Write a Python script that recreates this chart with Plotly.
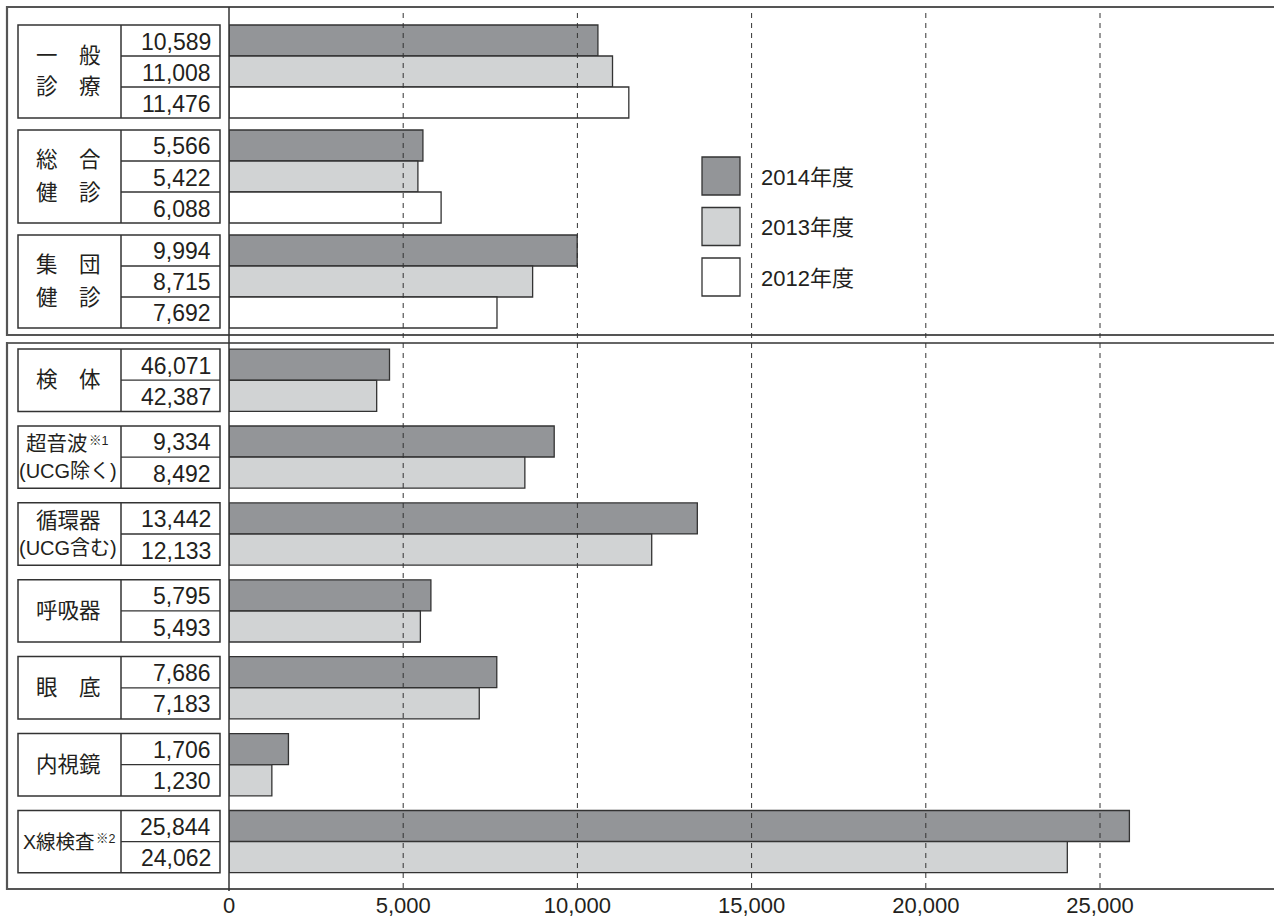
import plotly.graph_objects as go

# ---------------- data ----------------
years = ["2014年度", "2013年度", "2012年度"]
year_colors = ["#939598", "#d1d3d4", "#ffffff"]

upper_labels = [["一　般", "診　療"], ["総　合", "健　診"], ["集　団", "健　診"]]
upper_2014 = [10589, 5566, 9994]
upper_2013 = [11008, 5422, 8715]
upper_2012 = [11476, 6088, 7692]

lower_labels = [["検　体"], ["超音波", "(UCG除く)"], ["循環器", "(UCG含む)"],
                ["呼吸器"], ["眼　底"], ["内視鏡"], ["X線検査"]]
lower_notes = ["", "※1", "", "", "", "", "※2"]
lower_2014 = [46071, 9334, 13442, 5795, 7686, 1706, 25844]
lower_2013 = [42387, 8492, 12133, 5493, 7183, 1230, 24062]
# 検体 is drawn at one tenth of its count in the original chart
lower_bar_scale = [0.1, 1, 1, 1, 1, 1, 1]

tick_vals = [0, 5000, 10000, 15000, 20000, 25000]
tick_text = ["0", "5,000", "10,000", "15,000", "20,000", "25,000"]

# ---------------- geometry (pixels) ----------------
W, H = 1274, 920
PLOT_L, PLOT_B = 229, 890          # plot area: x 229..1274, y 0..890
PX_PER_UNIT = (1100 - 229) / 25000.0
XMAX = (W - PLOT_L) / PX_PER_UNIT

def xp(px):
    return (px - PLOT_L) / (W - PLOT_L)

def yp(py):
    return 1 - py / PLOT_B

TXT = "#231f20"
LINE = "#333333"
FRAME = "#555555"
FONT = "Liberation Sans, Arial, Noto Sans CJK JP"

BOX_L, BOX_MID, BOX_R = 18, 121, 220

UP_START, UP_ROW, UP_GAP = 25, 31.0, 12
LO_START, LO_ROW, LO_GAP = 349, 31.2, 14.5

fig = go.Figure()
shapes = []
annots = []

def fmt(v):
    return f"{v:,}"

def add_group(top, row_h, values, lines, line_gap, note=""):
    n = len(values)
    bottom = top + n * row_h
    shapes.append(dict(type="rect", xref="paper", yref="paper",
                       x0=xp(BOX_L), x1=xp(BOX_R), y0=yp(bottom), y1=yp(top),
                       line=dict(color=LINE, width=1.5), fillcolor="rgba(0,0,0,0)", layer="above"))
    shapes.append(dict(type="line", xref="paper", yref="paper",
                       x0=xp(BOX_MID), x1=xp(BOX_MID), y0=yp(bottom), y1=yp(top),
                       line=dict(color=LINE, width=1.5), layer="above"))
    for r in range(1, n):
        yy = top + r * row_h
        shapes.append(dict(type="line", xref="paper", yref="paper",
                           x0=xp(BOX_MID), x1=xp(BOX_R), y0=yp(yy), y1=yp(yy),
                           line=dict(color=LINE, width=1.3), layer="above"))
    for r, v in enumerate(values):
        cy = top + (r + 0.5) * row_h
        annots.append(dict(x=xp(213), y=yp(cy + 1), xref="paper", yref="paper",
                           text=fmt(v), showarrow=False, xanchor="right", yanchor="middle",
                           font=dict(family=FONT, size=23, color=TXT)))
    cy = (top + bottom) / 2
    k = len(lines)
    for i, t in enumerate(lines):
        off = (i - (k - 1) / 2) * line_gap
        size = 20 if t.startswith("(") else 21.5
        if i == 0 and note:
            # main text right-aligned, note as a small superscript just after it
            size = 20.5 if len(t) == 3 else 19.5
            right = 90 if len(t) == 3 else 97
            annots.append(dict(x=xp(right), y=yp(cy + off), xref="paper", yref="paper",
                               text=t, showarrow=False, xanchor="right", yanchor="middle",
                               font=dict(family=FONT, size=size, color=TXT)))
            annots.append(dict(x=xp(right - 3), y=yp(cy + off - 3), xref="paper", yref="paper",
                               text=note, showarrow=False, xanchor="left", yanchor="middle",
                               font=dict(family=FONT, size=12.5, color=TXT)))
        else:
            annots.append(dict(x=xp(68), y=yp(cy + off), xref="paper", yref="paper",
                               text=t, showarrow=False, xanchor="center", yanchor="middle",
                               font=dict(family=FONT, size=size, color=TXT)))

# ---------------- bars + table ----------------
bar_y = {0: [], 1: [], 2: []}
bar_x = {0: [], 1: [], 2: []}
upper_series = [upper_2014, upper_2013, upper_2012]
for g in range(len(upper_labels)):
    top = UP_START + g * (3 * UP_ROW + UP_GAP)
    vals = [s[g] for s in upper_series]
    add_group(top, UP_ROW, vals, upper_labels[g], 32)
    for r in range(3):
        bar_y[r].append(top + (r + 0.5) * UP_ROW)
        bar_x[r].append(vals[r])

lower_series = [lower_2014, lower_2013]
for g in range(len(lower_labels)):
    top = LO_START + g * (2 * LO_ROW + LO_GAP)
    vals = [s[g] for s in lower_series]
    add_group(top, LO_ROW, vals, lower_labels[g], 27, lower_notes[g])
    for r in range(2):
        bar_y[r].append(top + (r + 0.5) * LO_ROW)
        bar_x[r].append(vals[r] * lower_bar_scale[g])

for r in range(3):
    fig.add_trace(go.Bar(
        x=bar_x[r], y=bar_y[r], orientation="h", width=[UP_ROW] * len(bar_y[r]),
        name=years[r], showlegend=False,
        marker=dict(color=year_colors[r], line=dict(color=LINE, width=1.3)),
        hoverinfo="skip"))

# ---------------- frames ----------------
def hline(y, x0, x1, color, width):
    shapes.append(dict(type="line", xref="paper", yref="paper", x0=xp(x0), x1=xp(x1),
                       y0=yp(y), y1=yp(y), line=dict(color=color, width=width), layer="above"))

def vline(x, y0, y1, color, width):
    shapes.append(dict(type="line", xref="paper", yref="paper", x0=xp(x), x1=xp(x),
                       y0=yp(y0), y1=yp(y1), line=dict(color=color, width=width), layer="above"))

# upper frame
hline(7, 7, W + 2, FRAME, 2.2)
hline(335, 7, W + 2, FRAME, 2.2)
vline(7, 6, 336, FRAME, 2.2)
# lower frame
hline(343, 7, W + 2, LINE, 1.3)
hline(889, 7, W + 2, FRAME, 2.0)
vline(7, 342, 890, FRAME, 2.2)

# dashed gridlines
for v in tick_vals[1:]:
    shapes.append(dict(type="line", xref="x", yref="paper", x0=v, x1=v,
                       y0=yp(888), y1=yp(8),
                       line=dict(color=LINE, width=1, dash="5px,5px"), layer="above"))
# zero axis line
vline(229, 7, 891, LINE, 1.5)

# ---------------- legend ----------------
LEG_X0, LEG_X1 = 702, 740
for i, (name, col) in enumerate(zip(years, year_colors)):
    top = 157 + i * 50.5
    shapes.append(dict(type="rect", xref="paper", yref="paper",
                       x0=xp(LEG_X0), x1=xp(LEG_X1), y0=yp(top + 38), y1=yp(top),
                       fillcolor=col, line=dict(color=LINE, width=1.3), layer="above"))
    annots.append(dict(x=xp(759), y=yp(top + 20), xref="paper", yref="paper",
                       text=name, showarrow=False, xanchor="left", yanchor="middle",
                       font=dict(family=FONT, size=22, color=TXT)))

fig.update_layout(
    width=W, height=H,
    margin=dict(l=PLOT_L, r=0, t=0, b=H - PLOT_B),
    paper_bgcolor="white", plot_bgcolor="white",
    shapes=shapes, annotations=annots,
    barmode="overlay",
    xaxis=dict(range=[0, XMAX], tickvals=tick_vals, ticktext=tick_text,
               showgrid=False, zeroline=False, showline=False, ticks="",
               tickfont=dict(family=FONT, size=22, color=TXT), fixedrange=True),
    yaxis=dict(range=[PLOT_B, 0], visible=False, autorange=False, fixedrange=True),
)

fig.write_html("out.html")
